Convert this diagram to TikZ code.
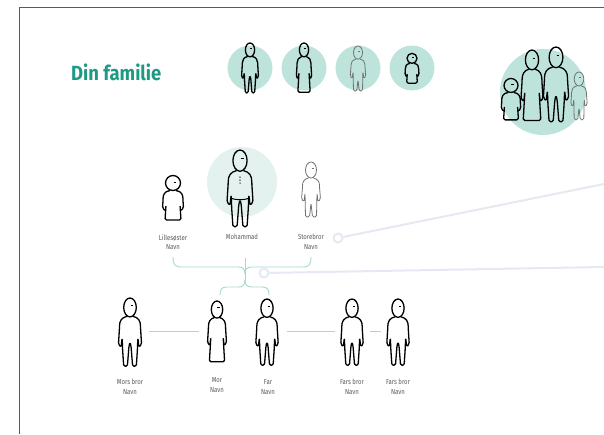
\documentclass[tikz,border=0pt]{standalone}
\usepackage{fontspec}
\setmainfont{Fira Sans}
\newfontfamily\titlefont[FakeStretch=0.9]{Fira Sans}
\newfontfamily\labelfont[FakeStretch=0.82]{Fira Sans}

\definecolor{famgreen}{HTML}{1E9A83}
\definecolor{ringfill}{HTML}{BDE3DB}
\definecolor{selffill}{HTML}{E3F2EF}
\definecolor{kincolor}{HTML}{A6D9CD}
\definecolor{linkcolor}{HTML}{E5E9F2}
\definecolor{labelgray}{HTML}{5A5A5A}

\tikzset{
  figure/.style={draw=black, line width=1.3pt, line join=round},
  faint/.style={draw=black!55, line width=0.8pt, line join=round},
  eye/.style={draw=black, line width=0.4pt},
  kin/.style={draw=kincolor, line width=0.9pt},
  link/.style={draw=linkcolor, line width=2pt},
  linkring/.style={circle, draw=linkcolor, line width=2pt, fill=white, minimum size=9pt, inner sep=0pt},
  namelabel/.style={text=labelgray, align=center, inner sep=0pt,
    font=\labelfont\fontsize{7.3}{9.5}\selectfont},
  % grown man, top of head at the origin, 65 high
  man/.pic={
    \draw[figure] (0,9) ellipse [x radius=6, y radius=9];
    \draw[eye] (0.5,7) -- (3,7);
    \draw[figure, rounded corners=1.5] (-3,17.5) .. controls (-8,18.5) and (-10,22) .. (-10,28)
      -- (-11,44) -- (-8.5,47) -- (-7.5,38) -- (-7,50) -- (-6,65) -- (-2.5,65) -- (-1,46)
      -- (0,42) -- (1,46) -- (2.5,65) -- (6,65) -- (7,50) -- (7.5,38) -- (8.5,47) -- (11,44)
      -- (10,28) .. controls (10,22) and (8,18.5) .. (3,17.5);
  },
  % grown woman in a dress
  woman/.pic={
    \draw[figure] (0,9) ellipse [x radius=6, y radius=9];
    \draw[eye] (0.5,7) -- (3,7);
    \draw[figure, rounded corners=1.5] (-3,17.5) .. controls (-7,18.5) and (-9,22) .. (-9,28)
      -- (-10,44) -- (-7.5,47) -- (-6.5,38) -- (-8,64) -- (8,64) -- (6.5,38) -- (7.5,47)
      -- (10,44) -- (9,28) .. controls (9,22) and (7,18.5) .. (3,17.5);
  },
  % small child, 45 high
  kid/.pic={
    \draw[figure] (0,8) circle [radius=7.5];
    \draw[eye] (0.5,7) -- (3,7);
    \draw[figure, rounded corners=1.5] (-3,15.5) .. controls (-9,16.5) and (-10,20) .. (-10,26)
      -- (-10.5,33) -- (-7.5,36) -- (-7,30) -- (-8,45) -- (8,45) -- (7,30) -- (7.5,36)
      -- (10.5,33) -- (10,26) .. controls (10,20) and (9,16.5) .. (3,15.5);
  },
  % older brother, thin grey outline, 55 high
  teen/.pic={
    \draw[faint] (0,8) ellipse [x radius=5.5, y radius=8];
    \draw[faint, line width=0.4pt] (0.5,6.5) -- (2.5,6.5);
    \draw[faint, rounded corners=1.5] (-2.5,16) .. controls (-7,17) and (-8.5,20) .. (-8.5,25)
      -- (-9.5,37) -- (-7,40) -- (-6,31) -- (-5.5,55) -- (-1.5,55) -- (0,41) -- (1.5,55)
      -- (5.5,55) -- (6,31) -- (7,40) -- (9.5,37) -- (8.5,25) .. controls (8.5,20) and (7,17) .. (2.5,16);
  },
  % buttons and belt for the main person
  buttons/.pic={
    \foreach \b in {23,25.5,28} \fill (0,\b) circle [radius=0.6];
    \draw[figure, line width=1pt] (-7.5,41) .. controls (-3,42.5) and (3,42.5) .. (7.5,41);
  }
}

\begin{document}
\begin{tikzpicture}[x=1pt,y=-1pt]
\useasboundingbox (0,0) rectangle (604,434);

% frame
\draw[black!65, line width=0.8pt] (19.5,434) -- (19.5,7.5) -- (604,7.5);

\node[anchor=west, text=famgreen, inner sep=0pt,
  font=\titlefont\bfseries\fontsize{20.5}{20.5}\selectfont] (title) at (71,72) {Din familie};

% legend circles
\foreach \x in {250,304,358,412}
  \fill[ringfill] (\x,68) circle (22.5);
\pic[scale=0.77] at (250,43) {man};
\pic[scale=0.77] at (304,43) {woman};
\pic[scale=0.82] at (358,46) {teen};
\pic[scale=0.67] at (412,53) {kid};

% the whole family
\fill[ringfill] (543,92) circle (43);
\pic[scale=0.93] at (511,78) {kid};
\pic[scale=1.1] at (532,50) {woman};
\pic[scale=1.15] at (556,47) {man};
\pic[scale=0.87] at (579,72) {teen};

% siblings row
\fill[selffill] (242,182) circle (35);
\pic at (173,175) {kid};
\pic[scale=1.18] at (240,150) {man};
\pic[scale=1.18] at (240,150) {buttons};
\pic at (311,162) {teen};

\node[namelabel] (lillesoster) at (173,242) {Lillesøster\\Navn};
\node[namelabel] (meg) at (242,237) {Mohammad};
\node[namelabel] (storebror) at (311,242) {Storebror\\Navn};

% brace between siblings and parents
\draw[kin] (173,257) .. controls (173,265) and (175,267) .. (182,267) -- (238,267)
  .. controls (243,267) and (245,269) .. (245,274);
\draw[kin] (311,257) .. controls (311,265) and (309,267) .. (302,267) -- (252,267)
  .. controls (247,267) and (245,269) .. (245,274);
\draw[kin] (245,258) -- (245,281);
\draw[kin] (245,280) .. controls (245,285) and (243,287) .. (238,287) -- (227,287)
  .. controls (222,287) and (220,289) .. (220,295);
\draw[kin] (245,280) .. controls (245,285) and (247,287) .. (252,287) -- (262,287)
  .. controls (267,287) and (269,289) .. (269,295);

% links out to the right
\node[linkring] (ringsib) at (338,238) {};
\coordinate (farsib) at (604,184);
\draw[link] (ringsib) -- (farsib);
\node[linkring] (ringpar) at (264,273) {};
\coordinate (farpar) at (604,267);
\draw[link] (ringpar) -- (farpar);

% parents row
\coordinate (morsbror) at (130,331);
\coordinate (mor) at (217,331);
\coordinate (far) at (267,331);
\coordinate (farsbrorA) at (352,331);
\coordinate (farsbrorB) at (398,331);
\pic[scale=1.05] at (130,298) {man};
\pic[scale=0.95] at (217,301) {woman};
\pic[scale=1.02] at (267,299) {man};
\pic[scale=1.02] at (352,299) {man};
\pic[scale=1.02] at (398,299) {man};

\draw[kin] ([xshift=19pt]morsbror) -- ([xshift=-18pt]mor);
\draw[kin] ([xshift=20pt]far) -- ([xshift=-17pt]farsbrorA);
\draw[kin] ([xshift=18pt]farsbrorA) -- ([xshift=-17pt]farsbrorB);

\node[namelabel] (morsbrorname) at (130,387) {Mors bror\\Navn};
\node[namelabel] (morname) at (217,385) {Mor\\Navn};
\node[namelabel] (farname) at (268,387) {Far\\Navn};
\node[namelabel] (farsbrorAname) at (352,387) {Fars bror\\Navn};
\node[namelabel] (farsbrorBname) at (398,387) {Fars bror\\Navn};
\end{tikzpicture}
\end{document}
